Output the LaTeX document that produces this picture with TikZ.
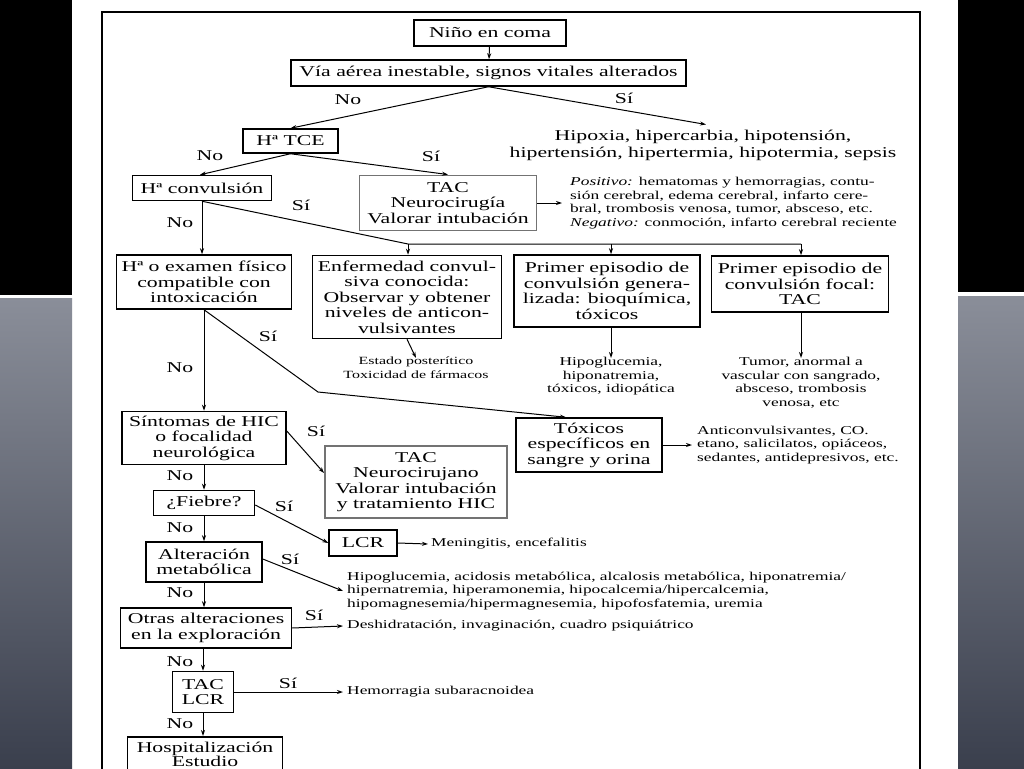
\documentclass[tikz,border=0pt]{standalone}
\usepackage{fontspec}
\setmainfont{Liberation Serif}[FakeStretch=1.45]
\usetikzlibrary{arrows.meta}
\newcommand\fsA{\fontsize{15}{15.5}\selectfont}
\newcommand\fsB{\fontsize{12}{13.5}\selectfont}
\newcommand\fsC{\fontsize{11}{13.5}\selectfont}
\newcommand\fsH{\fontsize{15}{17}\selectfont}
\newcommand\fsS{\fontsize{15}{14}\selectfont}
\definecolor{slatetop}{RGB}{138,142,153}
\definecolor{slatebot}{RGB}{58,63,77}
\tikzset{
 box/.style={draw, line width=1.5pt, align=center, inner sep=1pt, font=\fsA},
 gbox/.style={box, draw=black!55, line width=1.9pt},
 txt/.style={align=center, inner sep=0pt, font=\fsB},
 ltxt/.style={align=left, inner sep=0pt, font=\fsB, anchor=west},
 lbl/.style={inner sep=0pt, font=\fsA},
 arr/.style={-{Stealth[length=6pt,width=4pt]}, line width=1pt},
 ln/.style={line width=1pt},
}
\begin{document}
\begin{tikzpicture}[x=1pt,y=-1pt]
\useasboundingbox (0,0) rectangle (1024,768);
\clip (0,0) rectangle (1024,768);
% background
\fill[white] (0,0) rectangle (1024,768);
\fill[black] (0,0) rectangle (72,295);
\shade[top color=slatetop, bottom color=slatebot] (0,298) rectangle (72,768);
\fill[black] (958,0) rectangle (1024,292);
\shade[top color=slatetop, bottom color=slatebot] (958,296) rectangle (1024,768);
% frame
\draw[line width=1.8pt] (102,800) -- (102,12) -- (920,12) -- (920,800);

% boxes
\node[box, minimum width=152, minimum height=26] (nino) at (490,33) {Niño en coma};
\node[box, minimum width=395, minimum height=26] (via) at (488.5,73) {Vía aérea inestable, signos vitales alterados};
\node[box, minimum width=95, minimum height=24] (tce) at (290.5,141) {Hª TCE};
\node[box, minimum width=139, minimum height=25] (conv) at (202,188) {Hª convulsión};
\node[gbox, minimum width=177, minimum height=55] (tac1) at (448,203) {TAC\\Neurocirugía\\Valorar intubación};
\node[box, minimum width=175, minimum height=54] (exam) at (204,282) {Hª o examen físico\\compatible con\\intoxicación};
\node[box, minimum width=189, minimum height=83] (enf) at (407,297) {Enfermedad convul-\\siva conocida:\\Observar y obtener\\niveles de anticon-\\vulsivantes};
\node[box, minimum width=186, minimum height=72] (gen) at (607,291) {Primer episodio de\\convulsión genera-\\lizada: bioquímica,\\tóxicos};
\node[box, minimum width=177, minimum height=56] (focal) at (800,284) {Primer episodio de\\convulsión focal:\\TAC};
\node[box, minimum width=146, minimum height=54] (tox) at (589,445) {Tóxicos\\específicos en\\sangre y orina};
\node[box, minimum width=164, minimum height=53] (sint) at (204,438) {Síntomas de HIC\\o focalidad\\neurológica};
\node[gbox, minimum width=182, minimum height=72] (tac2) at (416,482) {TAC\\Neurocirujano\\Valorar intubación\\y tratamiento HIC};
\node[box, minimum width=101, minimum height=25] (fiebre) at (204,503) {¿Fiebre?};
\node[box, minimum width=68, minimum height=26] (lcr) at (363,543) {LCR};
\node[box, minimum width=116, minimum height=40] (alt) at (204,562) {Alteración\\metabólica};
\node[box, minimum width=171, minimum height=40] (otras) at (206,628) {Otras alteraciones\\en la exploración};
\node[box, minimum width=61, minimum height=41] (taclcr) at (203,692) {TAC\\LCR};
\node[box, font=\fsS, inner sep=0.5pt, minimum width=155, minimum height=36, anchor=north] (hosp) at (205,736) {Hospitalización\\Estudio};

% free texts
\node[inner sep=0pt, align=center, font=\fsH] (hipox) at (703,145) {Hipoxia, hipercarbia, hipotensión,\\hipertensión, hipertermia, hipotermia, sepsis};
\node[ltxt] (posit) at (570,203) {\textit{Positivo:} hematomas y hemorragias, contu-\\sión cerebral, edema cerebral, infarto cere-\\bral, trombosis venosa, tumor, absceso, etc.\\\textit{Negativo:} conmoción, infarto cerebral reciente};
\node[txt, font=\fsC, anchor=north] (estado) at (416,357) {Estado posterítico\\Toxicidad de fármacos};
\node[txt, anchor=north] (hipog) at (611,357) {Hipoglucemia,\\hiponatremia,\\tóxicos, idiopática};
\node[txt, anchor=north] (tumor) at (801,357) {Tumor, anormal a\\vascular con sangrado,\\absceso, trombosis\\venosa, etc};
\node[ltxt] (antic) at (697,445) {Anticonvulsivantes, CO.\\etano, salicilatos, opiáceos,\\sedantes, antidepresivos, etc.};
\node[ltxt] (mening) at (431,544) {Meningitis, encefalitis};
\node[ltxt] (metab) at (347,591) {Hipoglucemia, acidosis metabólica, alcalosis metabólica, hiponatremia/\\hipernatremia, hiperamonemia, hipocalcemia/hipercalcemia,\\hipomagnesemia/hipermagnesemia, hipofosfatemia, uremia};
\node[ltxt] (deshid) at (347,626) {Deshidratación, invaginación, cuadro psiquiátrico};
\node[ltxt] (hemor) at (347,692) {Hemorragia subaracnoidea};

% labels
\node[lbl] (l1) at (348,100) {No};
\node[lbl] (l2) at (624,98) {Sí};
\node[lbl] (l3) at (210,156) {No};
\node[lbl] (l4) at (431,156) {Sí};
\node[lbl] (l5) at (301,205) {Sí};
\node[lbl] (l6) at (180,223) {No};
\node[lbl] (l7) at (268,336) {Sí};
\node[lbl] (l8) at (180,368) {No};
\node[lbl] (l9) at (316,431) {Sí};
\node[lbl] (l10) at (180,476) {No};
\node[lbl] (l11) at (284,506) {Sí};
\node[lbl] (l12) at (180,528) {No};
\node[lbl] (l13) at (290,559) {Sí};
\node[lbl] (l14) at (180,593) {No};
\node[lbl] (l15) at (314,615) {Sí};
\node[lbl] (l16) at (180,662) {No};
\node[lbl] (l17) at (288,683) {Sí};
\node[lbl] (l18) at (180,724) {No};

% connectors
\coordinate (b1) at (408,244);
\coordinate (b2) at (611,244);
\coordinate (b3) at (801,244);
\coordinate (k1) at (318,392);
\draw[arr] (nino) -- (via);
\draw[arr] (via.south) -- (tce.north);
\draw[arr] (via.south) -- ([xshift=3pt,yshift=5pt]hipox.north);
\draw[arr] (tce.south) -- ([xshift=-2pt]conv.north);
\draw[arr] (tce.south) -- (tac1.north);
\draw[arr] (tac1.east) -- ([xshift=-8pt]posit.west);
\draw[arr] (conv.south) -- (conv.south |- exam.north);
\draw[ln] (conv.south) -- (b1) -- (b3);
\draw[arr] (b1) -- (b1 |- enf.north);
\draw[arr] (b2) -- (b2 |- gen.north);
\draw[arr] (b3) -- (b3 |- focal.north);
\draw[arr] (enf.south) -- ([yshift=-1pt]estado.north);
\draw[arr] (gen.south -| b2) -- ([yshift=-1pt]hipog.north);
\draw[arr] (focal.south -| b3) -- ([yshift=-1pt]tumor.north);
\draw[arr] (exam.south) -- (sint.north);
\draw[arr] (exam.south) -- (k1) -- ([xshift=-23pt]tox.north);
\draw[arr] (tox.east) -- ([xshift=-5pt]antic.west);
\draw[arr] ([yshift=7pt]sint.east) -- ([yshift=9pt]tac2.west);
\draw[arr] (sint.south) -- (fiebre.north);
\draw[arr] ([yshift=-2pt]fiebre.east) -- (lcr.west);
\draw[arr] (lcr.east) -- ([xshift=-3pt]mening.west);
\draw[arr] (fiebre.south) -- (alt.north);
\draw[arr] ([yshift=3pt]alt.east) -- ([xshift=-4pt]metab.west);
\draw[arr] (alt.south) -- (alt.south |- otras.north);
\draw[arr] (otras.east) -- ([xshift=-4pt]deshid.west);
\draw[arr] (otras.south -| taclcr.north) -- (taclcr.north);
\draw[arr] (taclcr.east) -- ([xshift=-4pt]hemor.west);
\draw[arr] (taclcr.south) -- (taclcr.south |- hosp.north);
\end{tikzpicture}
\end{document}
